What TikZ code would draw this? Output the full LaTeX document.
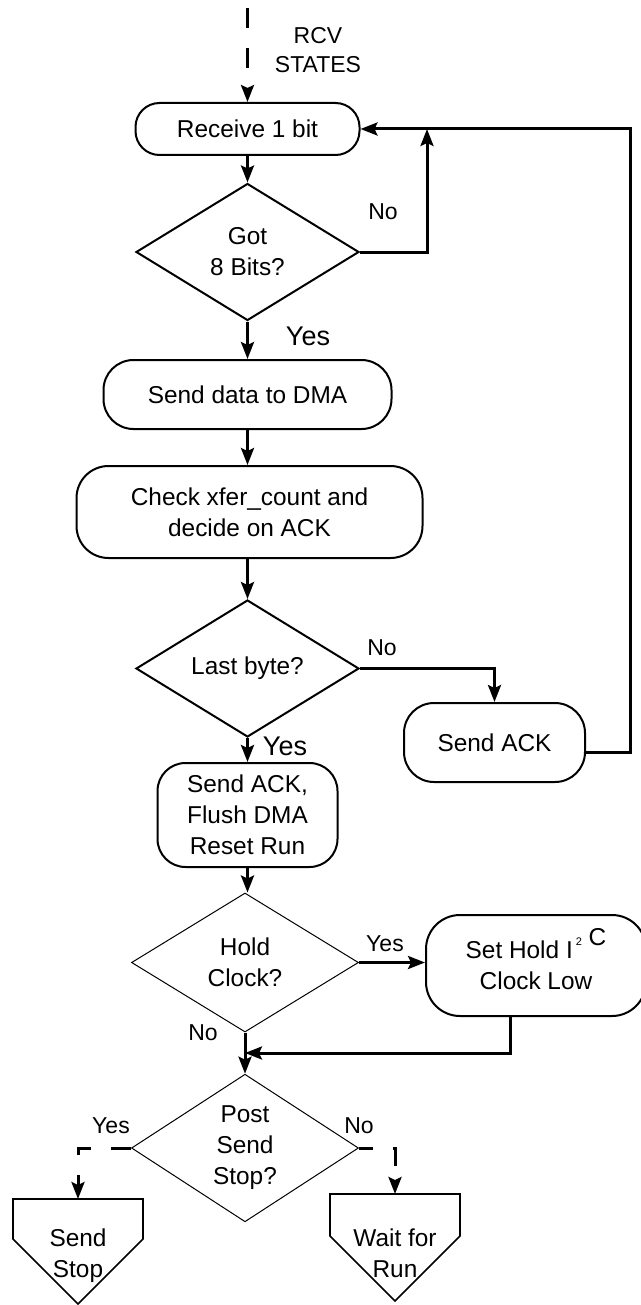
\documentclass[tikz,border=0pt]{standalone}
\usepackage{fontspec}
\setmainfont{Liberation Sans}
\usetikzlibrary{arrows.meta,calc,shapes.geometric}
\tikzset{
    box/.style={draw, line width=1pt, rounded corners=14pt, inner sep=0pt,
                align=center, font=\fontsize{12.2}{15.5}\selectfont},
    choice/.style={diamond, draw, line width=1pt, inner sep=0pt,
                   align=center, font=\fontsize{12.2}{15.5}\selectfont},
    thinchoice/.style={choice, line width=0.5pt},
    txt/.style={align=center, inner sep=0pt, font=\fontsize{12.2}{15.5}\selectfont},
    endbox/.style={draw, line width=0.8pt},
    flow/.style={-{Stealth[length=8.5pt, width=6.5pt, inset=1.5pt]}, line width=1.5pt},
    dflow/.style={flow, dash pattern=on 10pt off 10pt},
    note/.style={anchor=base, inner sep=0pt, font=\fontsize{11.5}{14}\selectfont},
    bignote/.style={note, font=\fontsize{13.5}{16}\selectfont},
}

\begin{document}
\begin{tikzpicture}[x=0.5pt, y=-0.5pt]

    \useasboundingbox (0,0) rectangle (641,1305);

    \coordinate (start) at (247.5,8);
    \node[txt, font=\fontsize{11.5}{14.5}\selectfont] (rcv) at (318,50) {RCV\\STATES};
    \node[box, rounded corners=12pt, minimum width=112pt, minimum height=26pt] (receive) at (247.5,129) {Receive 1 bit};
    \node[choice, minimum width=111.5pt, minimum height=68.5pt] (gotbits) at (247.5,252) {Got\\8 Bits?};
    \coordinate (nobend) at (427,129);
    \node[box, rounded corners=15pt, minimum width=144pt, minimum height=34.5pt] (senddma) at (247.5,394.5) {Send data to DMA};
    \node[box, rounded corners=16pt, minimum width=173pt, minimum height=46pt] (check) at (249.5,512) {Check xfer\_count and\\decide on ACK};
    \node[choice, minimum width=111.5pt, minimum height=68.5pt] (lastbyte) at (247.5,668.5) {Last byte?};
    \node[box, rounded corners=15pt, minimum width=90.5pt, minimum height=39.5pt] (sendack) at (494.5,742.5) {Send ACK};
    \node[box, minimum width=90pt, minimum height=52pt] (flush) at (247.5,815) {Send ACK,\\Flush DMA\\Reset Run};
    \node[thinchoice, minimum width=113.5pt, minimum height=69.5pt] (holdclk) at (245,962.5) {Hold\\Clock?};
    \node[box, rounded corners=17pt, minimum width=110pt, minimum height=50.5pt] (sethold) at (536,965.5)
        {Set Hold I\hspace{1.5pt}\smash{\raisebox{6.5pt}{\fontsize{5.5}{6}\selectfont 2}} \smash{\raisebox{6.5pt}{C}}\\Clock Low};
    \coordinate (join) at (245,1053);
    \node[thinchoice, minimum width=113.5pt, minimum height=69pt] (poststop) at (245,1148) {Post\\Send\\Stop?};

    \node[txt] (sendstop) at (78,1256) {Send\\Stop};
    \draw[endbox] (13,1199) -- (143,1199) -- (143,1239) -- (78,1304) -- (13,1239) -- cycle;
    \coordinate (stoptop) at (78,1199);
    \node[txt] (waitrun) at (395,1253) {Wait for\\Run};
    \draw[endbox] (330,1194) -- (460,1194) -- (460,1236) -- (395,1301) -- (330,1236) -- cycle;
    \coordinate (waittop) at (395,1194);

    \node[note] (gotno) at (383,220) {No};
    \node[bignote] (gotyes) at (308,345) {Yes};
    \node[note] (lastno) at (382,655) {No};
    \node[bignote] (lastyes) at (285,755) {Yes};
    \node[note] (holdyes) at (385,951) {Yes};
    \node[note] (holdno) at (203,1040) {No};
    \node[note] (postyes) at (111,1133) {Yes};
    \node[note] (postno) at (359,1133) {No};

    \draw[dflow] (start) -- (receive.north);
    \draw[flow] (receive) -- (gotbits);
    \draw[flow] (gotbits.east) -| (nobend);
    \draw[flow] ($(sendack.east)+(0,9.5)$) -- ++(44,0) |- (receive.east);
    \draw[flow] (gotbits) -- (senddma);
    \draw[flow] (senddma.south) -- (senddma.south |- check.north);
    \draw[flow] (check.south -| lastbyte.north) -- (lastbyte.north);
    \draw[flow] (lastbyte.east) -| (sendack.north);
    \draw[flow] (lastbyte) -- (flush);
    \draw[flow] (flush.south) -- (flush.south |- holdclk.north);
    \draw[flow] (holdclk.east) -- (holdclk.east -| sethold.west);
    \draw[flow] ([xshift=-13pt]sethold.south) |- (join);
    \draw[flow] (holdclk) -- (poststop);
    \draw[dflow] (poststop.west) -| (stoptop);
    \draw[dflow, dash phase=3pt] (poststop.east) -| (waittop);

\end{tikzpicture}
\end{document}
